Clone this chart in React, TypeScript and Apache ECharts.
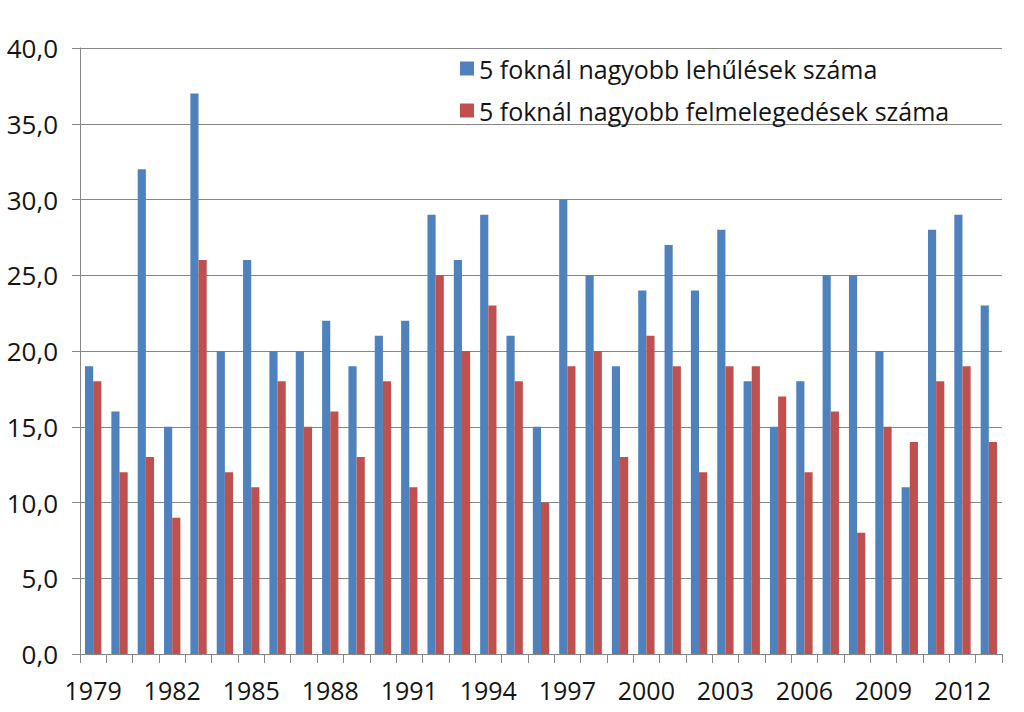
import { useEffect, useRef } from 'react';
import * as echarts from 'echarts';

const YEARS = [
  '1979', '1980', '1981', '1982', '1983', '1984', '1985', '1986', '1987', '1988',
  '1989', '1990', '1991', '1992', '1993', '1994', '1995', '1996', '1997', '1998',
  '1999', '2000', '2001', '2002', '2003', '2004', '2005', '2006', '2007', '2008',
  '2009', '2010', '2011', '2012', '2013',
];

// lehűlések (blue)
const COOLING = [
  19, 16, 32, 15, 37, 20, 26, 20, 20, 22,
  19, 21, 22, 29, 26, 29, 21, 15, 30, 25,
  19, 24, 27, 24, 28, 18, 15, 18, 25, 25,
  20, 11, 28, 29, 23,
];

// felmelegedések (red)
const WARMING = [
  18, 12, 13, 9, 26, 12, 11, 18, 15, 16,
  13, 18, 11, 25, 20, 23, 18, 10, 19, 20,
  13, 21, 19, 12, 19, 19, 17, 12, 16, 8,
  15, 14, 18, 19, 14,
];

const NAMES = [
  '5 foknál nagyobb lehűlések száma',
  '5 foknál nagyobb felmelegedések száma',
];

const FONT = '"Open Sans", "Noto Sans", sans-serif';
const GRAY = '#868686';
const TEXT = '#141414';

export default function App() {
  const divEL = useRef<HTMLDivElement>(null);

  useEffect(() => {
    const instance = echarts.init(divEL.current as any, null, { renderer: 'svg' });
    const option: echarts.EChartsOption = {
      animation: false,
      backgroundColor: '#ffffff',
      textStyle: { fontFamily: FONT },
      grid: { left: 80, right: 22, top: 48, bottom: 58 },
      legend: {
        orient: 'vertical',
        left: 455,
        top: 51,
        itemWidth: 14,
        itemHeight: 14,
        itemGap: 17,
        icon: 'rect',
        textStyle: { fontSize: 25, color: TEXT, fontFamily: FONT },
        data: NAMES,
      },
      xAxis: {
        type: 'category',
        data: YEARS,
        axisLine: { lineStyle: { color: GRAY, width: 1 } },
        axisTick: { show: true, interval: 0, length: 9, lineStyle: { color: GRAY } },
        axisLabel: { interval: 2, fontSize: 25, color: TEXT, margin: 23 },
      },
      yAxis: {
        type: 'value',
        min: 0,
        max: 40,
        interval: 5,
        axisLine: { show: true, lineStyle: { color: GRAY, width: 1 } },
        axisTick: { show: true, length: 8, lineStyle: { color: GRAY } },
        splitLine: { lineStyle: { color: GRAY, width: 1 } },
        axisLabel: {
          fontSize: 26,
          color: TEXT,
          margin: 22,
          formatter: (v: number) => v.toFixed(1).replace('.', ','),
        },
      },
      series: [
        {
          name: NAMES[0],
          type: 'bar',
          data: COOLING,
          barGap: '0%',
          barCategoryGap: '38%',
          itemStyle: { color: '#4f81bd' },
        },
        {
          name: NAMES[1],
          type: 'bar',
          data: WARMING,
          barGap: '0%',
          barCategoryGap: '38%',
          itemStyle: { color: '#c0504d' },
        },
      ],
    };
    instance.setOption(option);
    return () => {
      instance.dispose();
    };
  }, []);

  return (
    <div
      ref={divEL}
      style={{ position: 'fixed', left: 0, top: 0, width: '1024px', height: '712px' }}
    ></div>
  );
}
